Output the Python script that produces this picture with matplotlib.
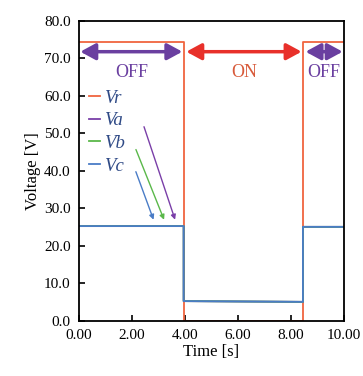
import matplotlib
matplotlib.use("Agg")
import matplotlib.pyplot as plt
import numpy as np

# step data
t_r = [0.0, 3.95, 3.95, 8.45, 8.45, 10.0]
v_r = [74.5, 74.5, 0.0, 0.0, 74.5, 74.5]
t_abc = [0.0, 3.95, 3.95, 8.45, 8.45, 10.0]
v_a = [25.3, 25.3, 5.3, 5.1, 25.1, 25.1]
v_b = [25.3, 25.3, 5.3, 5.1, 25.1, 25.1]
v_c = [25.3, 25.3, 5.3, 5.1, 25.1, 25.1]

series_names = ["Vr", "Va", "Vb", "Vc"]
series_colors = ["#f0643f", "#7a3fa8", "#5ab84a", "#4a7cc6"]

x_ticks = [0, 2, 4, 6, 8, 10]
y_ticks = [0, 10, 20, 30, 40, 50, 60, 70, 80]

plt.rcParams['font.family'] = ['Liberation Serif', 'DejaVu Serif']

fig = plt.figure(figsize=(3.63, 3.76), dpi=100)
ax = fig.add_axes([0.2176, 0.1463, 0.730, 0.798])

ax.plot(t_r, v_r, color=series_colors[0], lw=1.3)
ax.plot(t_abc, v_a, color=series_colors[1], lw=1.3)
ax.plot(t_abc, v_b, color=series_colors[2], lw=1.3)
ax.plot(t_abc, v_c, color=series_colors[3], lw=1.3)

ax.set_xlim(0, 10)
ax.set_ylim(0, 80)
ax.set_xticks(x_ticks)
ax.set_xticklabels([f"{v:.2f}" for v in x_ticks])
ax.set_yticks(y_ticks)
ax.set_yticklabels([f"{v:.1f}" for v in y_ticks])
ax.tick_params(direction="in", length=4, width=1.2, labelsize=11, pad=6)
for s in ax.spines.values():
    s.set_linewidth(1.3)

ax.set_xlabel("Time [s]", fontsize=12, labelpad=1)
ax.set_ylabel("Voltage [V]", fontsize=12, labelpad=2)

leg = ax.legend(labels=series_names, loc="upper left", bbox_to_anchor=(-0.025, 0.828),
                frameon=False, handlelength=0.6, handletextpad=0.2,
                labelspacing=0.3, prop={"style": "italic", "size": 13.5})
for txt in leg.get_texts():
    txt.set_color("#2f4a86")

# arrows from legend labels to the traces
arrow_starts = [(2.42, 52.5), (2.11, 46.4), (2.11, 40.5)]
arrow_ends = [(3.66, 26.3), (3.25, 26.3), (2.85, 26.3)]
for (x0, y0), (x1, y1), c in zip(arrow_starts, arrow_ends, series_colors[1:]):
    ax.annotate("", xy=(x1, y1), xytext=(x0, y0),
                arrowprops=dict(arrowstyle="-|>", color=c, lw=1.0, mutation_scale=7))

# OFF / ON double arrows
off_color = "#6a3fa0"
on_color = "#e8302a"
spans = [(0.05, 3.9, off_color, "OFF"), (4.05, 8.4, on_color, "ON"), (8.55, 9.95, off_color, "OFF")]
for x0, x1, c, lab in spans:
    ax.annotate("", xy=(x1, 71.8), xytext=(x0, 71.8),
                arrowprops=dict(arrowstyle="<|-|>, head_length=0.7, head_width=0.38",
                                color=c, lw=2.5, mutation_scale=13,
                                shrinkA=0, shrinkB=0))
    ax.text((x0 + x1) / 2, 66.3, lab, color=c if lab == "OFF" else "#d85a3a",
            ha="center", va="center", fontsize=13)

fig.savefig("out.png", dpi=100)
